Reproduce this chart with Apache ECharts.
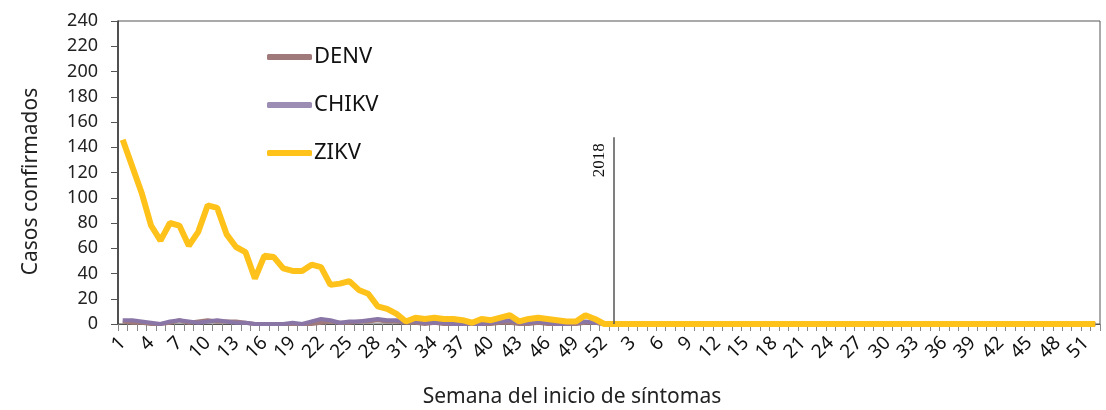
<!DOCTYPE html>
<html>
<head>
<meta charset="utf-8">
<script src="https://cdn.jsdelivr.net/npm/echarts@6/dist/echarts.min.js"></script>
<style>
  html, body { margin: 0; padding: 0; background: #fff; }
  #main { width: 1106px; height: 410px; }
</style>
</head>
<body>
<div id="main"></div>
<script>
// semanas epidemiologicas 2017 y 2018
const weeks2017 = [1,2,3,4,5,6,7,8,9,10,11,12,13,14,15,16,17,18,19,20,21,22,23,24,25,26,
  27,28,29,30,31,32,33,34,35,36,37,38,39,40,41,42,43,44,45,46,47,48,49,50,51,52];
const weeks2018 = [1,2,3,4,5,6,7,8,9,10,11,12,13,14,15,16,17,18,19,20,21,22,23,24,25,26,
  27,28,29,30,31,32,33,34,35,36,37,38,39,40,41,42,43,44,45,46,47,48,49,50,51,52];
const categories = weeks2017.concat(weeks2018).map(String);

const denv2017 = [2,1,1,0,0,1,3,1,2,3,2,2,2,1,0,0,0,0,0,0,0,1,2,1,1,2,
  2,3,2,2,1,1,0,1,0,0,0,0,0,0,1,1,0,0,1,0,0,0,0,1,1,0];
const chikv2017 = [3,3,2,1,0,2,3,2,1,2,3,2,1,1,0,0,0,0,1,0,2,4,3,1,2,2,
  3,4,3,3,2,2,1,1,1,0,0,0,0,1,2,3,1,1,2,1,0,0,1,2,1,0];
const zikv2017 = [146,125,104,78,66,80,78,62,73,94,92,71,61,57,36,54,53,44,42,42,47,45,31,32,34,27,
  24,14,12,8,2,5,4,5,4,4,3,1,4,3,5,7,2,4,5,4,3,2,2,7,4,0];

const zeros2018 = [0,0,0,0,0,0,0,0,0,0,0,0,0,0,0,0,0,0,0,0,0,0,0,0,0,0,
  0,0,0,0,0,0,0,0,0,0,0,0,0,0,0,0,0,0,0,0,0,0,0,0,0,0];

const denv = denv2017.concat(zeros2018);
const chikv = chikv2017.concat(zeros2018);
const zikv = zikv2017.concat(zeros2018);

const yTicks = [0, 20, 40, 60, 80, 100, 120, 140, 160, 180, 200, 220, 240];

const chart = echarts.init(document.getElementById('main'));

const option = {
  animation: false,
  textStyle: { fontFamily: 'Noto Sans' },
  grid: {
    left: 118, right: 6, top: 21, bottom: 86,
    outerBoundsMode: 'none',
    show: true, borderColor: '#555', borderWidth: 1
  },
  legend: {
    orient: 'vertical',
    left: 262, top: 41,
    itemGap: 26,
    itemWidth: 45, itemHeight: 6,
    icon: 'roundRect',
    textStyle: { fontSize: 22, color: '#111', fontFamily: 'Noto Sans', padding: [0, 0, 0, -3] },
    data: ['DENV', 'CHIKV', 'ZIKV']
  },
  xAxis: {
    type: 'category',
    data: categories,
    boundaryGap: true,
    name: 'Semana del inicio de síntomas',
    nameLocation: 'middle',
    nameGap: 63,
    nameTextStyle: { fontSize: 21, color: '#222', padding: [0, 74, 0, 0] },
    axisLine: { lineStyle: { color: '#555', width: 1 } },
    axisTick: { show: true, interval: 0, length: 7, lineStyle: { color: '#888' } },
    axisLabel: { interval: 2, rotate: 45, fontSize: 19, color: '#111', margin: 16 },
    splitLine: { show: false }
  },
  yAxis: {
    type: 'value',
    min: 0, max: yTicks[yTicks.length - 1], interval: 20,
    name: 'Casos confirmados',
    nameLocation: 'middle',
    nameGap: 76,
    nameRotate: 90,
    nameTextStyle: { fontSize: 21, color: '#222', padding: [0, 18, 0, 0] },
    axisLine: { show: true, lineStyle: { color: '#333', width: 1.5 } },
    axisTick: { show: true, inside: false, length: 7, lineStyle: { color: '#555' } },
    axisLabel: { fontSize: 18, color: '#222', margin: 20 },
    splitLine: { show: false }
  },
  series: [
    {
      name: 'DENV', type: 'line', data: denv,
      showSymbol: false, symbol: 'none',
      color: '#a07a7a',
      lineStyle: { width: 4, color: '#a07a7a' }
    },
    {
      name: 'CHIKV', type: 'line', data: chikv,
      showSymbol: false, symbol: 'none',
      color: '#9c8db5',
      lineStyle: { width: 4, color: '#8a76a6' }
    },
    {
      name: 'ZIKV', type: 'line', data: zikv,
      showSymbol: false, symbol: 'none',
      color: '#ffc21a',
      lineStyle: { width: 6, color: '#ffc21a' },
      markLine: {
        silent: true,
        symbol: 'none',
        lineStyle: { color: '#555', width: 1.5, type: 'solid' },
        label: {
          show: true,
          position: 'insideEndTop',
          formatter: '2018',
          fontFamily: 'Liberation Serif',
          fontSize: 17,
          color: '#111',
          distance: 6
        },
        data: [
          [{ coord: [51.5, 0] }, { coord: [51.5, 148] }]
        ]
      }
    }
  ]
};

chart.setOption(option);
window.addEventListener('resize', () => {
  chart.resize();
});
</script>
</body>
</html>
